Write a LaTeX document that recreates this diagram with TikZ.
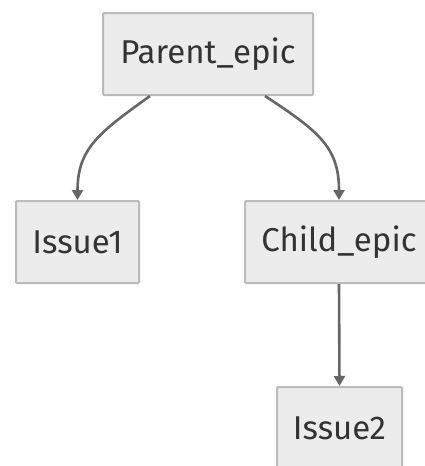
\documentclass[tikz,border=0pt]{standalone}
\usepackage{fontspec}
\setmainfont{Fira Sans}
\usetikzlibrary{arrows.meta}
\definecolor{boxfill}{HTML}{ECECEC}
\definecolor{boxline}{HTML}{BBBBBB}
\definecolor{edgeline}{HTML}{666666}
\definecolor{textcol}{HTML}{333333}

\begin{document}
\begin{tikzpicture}[x=1pt, y=-1pt,
    item/.style={draw=boxline, fill=boxfill, line width=2pt, rounded corners=1pt,
        minimum height=82pt, inner sep=0pt, text=textcol, font=\fontsize{33}{38}\selectfont},
    link/.style={draw=edgeline, line width=2.6pt, -{Triangle[length=10pt,width=11pt]}}]
    \useasboundingbox (0,0) rectangle (424,466);

    \node[item, minimum width=210pt] at (208,54) (parent) {Parent\_epic};
    \node[item, minimum width=123pt] at (77.5,242) (issue1) {Issue1};
    \node[item, minimum width=188pt] at (339,242) (child) {Child\_epic};
    \node[item, minimum width=125pt] at (339.5,428) (issue2) {Issue2};

    \draw[link] ([xshift=-58pt]parent.south) .. controls (100,132) and (77.5,148) .. (issue1.north);
    \draw[link] ([xshift=57pt]parent.south) .. controls (320,132) and (339,148) .. (child.north);
    \draw[link] (child.south) -- (issue2.north);

\end{tikzpicture}
\end{document}
